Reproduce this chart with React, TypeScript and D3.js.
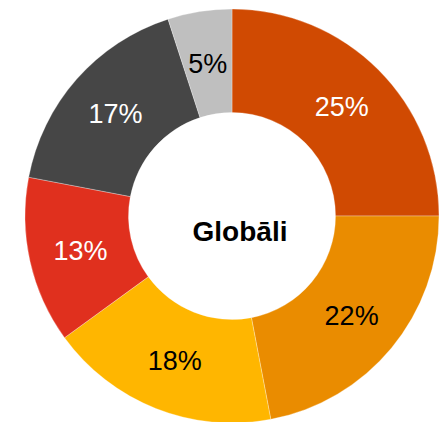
import React from "react";
import * as d3 from "d3";

const labels = ["25%", "22%", "18%", "13%", "17%", "5%"];
const values = [25, 22, 18, 13, 17, 5];
const colors = ["#D04A02", "#EA8C00", "#FFB600", "#E0301E", "#464646", "#BFBFBF"];
const textColors = ["#FFFFFF", "#000000", "#000000", "#FFFFFF", "#FFFFFF", "#000000"];
const centerTitle = "Globāli";

export default function App() {
  const width = 447;
  const height = 422;
  const cx = 232;
  const cy = 216;
  const outer = 207;
  const inner = 103.5;

  const pie = d3.pie<number>().sort(null).value((d) => d);
  const arcs = pie(values);
  const arc = d3.arc<d3.PieArcDatum<number>>().innerRadius(inner).outerRadius(outer);

  return (
    <svg
      width={width}
      height={height}
      style={{ position: "absolute", left: 0, top: 0, background: "#fff" }}
    >
      <g transform={`translate(${cx},${cy})`}>
        {arcs.map((a, i) => (
          <path key={i} d={arc(a) || ""} fill={colors[i]} stroke="#fff" strokeWidth={0.3} />
        ))}
        {arcs.map((a, i) => {
          const [x, y] = arc.centroid(a);
          return (
            <text
              key={"t" + i}
              x={x}
              y={y + 1}
              textAnchor="middle"
              dominantBaseline="central"
              fontFamily="'Liberation Sans', Arial, sans-serif"
              fontSize={27}
              fill={textColors[i]}
            >
              {labels[i]}
            </text>
          );
        })}
        <text
          x={8}
          y={15}
          textAnchor="middle"
          dominantBaseline="central"
          fontFamily="'Liberation Sans', Arial, sans-serif"
          fontWeight="bold"
          fontSize={28}
          fill="#000"
        >
          {centerTitle}
        </text>
      </g>
    </svg>
  );
}
